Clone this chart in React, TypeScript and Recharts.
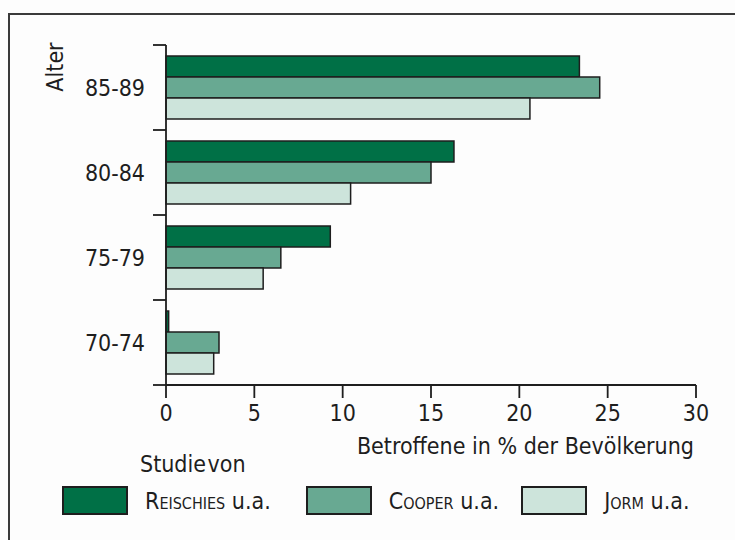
import React from 'react';
import { BarChart, Bar, XAxis, YAxis, Legend } from 'recharts';

const categories = ['85-89', '80-84', '75-79', '70-74'];
const reischies = [23.4, 16.3, 9.3, 0.15];
const cooper = [24.55, 15.0, 6.5, 3.0];
const jorm = [20.6, 10.45, 5.5, 2.7];
const xTicks = [0, 5, 10, 15, 20, 25, 30];
const seriesKeys = ['reischies', 'cooper', 'jorm'];
const seriesNames = ['Reischies', 'Cooper', 'Jorm'];
const seriesSuffix = ' u.a.';
const seriesColors = ['#007046', '#68A992', '#CDE4DB'];
const xLabel = 'Betroffene in % der Bevölkerung';
const yLabel = 'Alter';
const legendTitle = 'Studie von';

const data = categories.map((c, i) => ({
  cat: c,
  reischies: reischies[i],
  cooper: cooper[i],
  jorm: jorm[i],
}));

const FONT = "'DejaVu Sans Condensed', 'Liberation Sans Narrow', 'Open Sans', sans-serif";
const FS = 23;
const INK = '#1e1e1e';
const TICK_SIZE = 13;
const TICK_MARGIN = 8;

const YTick = (props: any) => {
  const { x, y, payload, index, visibleTicksCount } = props;
  const half = payload && typeof payload.offset === 'number' && payload.offset > 0 ? payload.offset : 42.5;
  const x1 = x + TICK_MARGIN;
  const x2 = x + TICK_MARGIN + TICK_SIZE;
  return (
    <g>
      <line x1={x1} x2={x2} y1={y - half} y2={y - half} stroke={INK} strokeWidth={1.8} />
      {index === visibleTicksCount - 1 && (
        <line x1={x1} x2={x2} y1={y + half} y2={y + half} stroke={INK} strokeWidth={1.8} />
      )}
      <text x={x} y={y} textAnchor="end" dominantBaseline="central" fontFamily={FONT} fontSize={FS} fill={INK}>
        {payload.value}
      </text>
    </g>
  );
};

const LegendContent = (props: any) => {
  const payload = [...(props.payload || [])].sort(
    (a: any, b: any) => seriesNames.indexOf(a.value) - seriesNames.indexOf(b.value)
  );
  const gaps = [35, 22, 0];
  return (
    <div style={{ fontFamily: FONT, color: INK, textAlign: 'left' }}>
      <div style={{ marginLeft: 140, fontSize: FS, lineHeight: '26px', wordSpacing: -5 }}>{legendTitle}</div>
      <div style={{ display: 'flex', alignItems: 'center', marginTop: 9, marginLeft: 62 }}>
        {payload.map((p: any, i: number) => (
          <div key={i} style={{ display: 'flex', alignItems: 'center', marginRight: gaps[i] ?? 20 }}>
            <div
              style={{
                width: 66,
                height: 29,
                boxSizing: 'border-box',
                border: `2px solid ${INK}`,
                background: p.color,
              }}
            />
            <span style={{ marginLeft: 17, fontSize: FS, whiteSpace: 'pre' }}>
              <span style={{ fontVariant: 'small-caps' }}>{p.value}</span>
              {seriesSuffix}
            </span>
          </div>
        ))}
      </div>
    </div>
  );
};

export default function App() {
  return (
    <div
      style={{
        position: 'absolute',
        left: 0,
        top: 0,
        width: 735,
        height: 540,
        overflow: 'hidden',
        background: '#fdfdfd',
      }}
    >
      <div
        style={{
          position: 'absolute',
          left: 8,
          top: 13,
          width: 760,
          height: 560,
          borderTop: '2px solid #3a3a3a',
          borderLeft: '2px solid #3a3a3a',
        }}
      />
      <BarChart
        width={735}
        height={540}
        data={data}
        layout="vertical"
        margin={{ top: 45, right: 39, bottom: 125, left: 66 }}
        barSize={21}
        barGap={0}
        style={{ position: 'absolute', left: 0, top: 0 }}
      >
        <XAxis
          type="number"
          domain={[0, 30]}
          ticks={xTicks}
          interval={0}
          height={30}
          tickSize={TICK_SIZE}
          tickMargin={7}
          axisLine={{ stroke: INK, strokeWidth: 1.8 }}
          tickLine={{ stroke: INK, strokeWidth: 1.8 }}
          tick={{ fill: INK, fontSize: FS, fontFamily: FONT }}
          label={{
            content: (p: any) => {
              const vb = p.viewBox;
              return (
                <text
                  x={vb.x + vb.width - 2}
                  y={vb.y + 61}
                  textAnchor="end"
                  dominantBaseline="central"
                  fontFamily={FONT}
                  fontSize={FS}
                  fill={INK}
                >
                  {xLabel}
                </text>
              );
            },
          }}
        />
        <YAxis
          type="category"
          dataKey="cat"
          width={100}
          tickSize={TICK_SIZE}
          tickMargin={TICK_MARGIN}
          tickLine={false}
          axisLine={{ stroke: INK, strokeWidth: 1.8 }}
          tick={<YTick />}
          interval={0}
          label={{
            content: (p: any) => {
              const vb = p.viewBox;
              const cx = vb.x - 11;
              const cy = vb.y + 22;
              return (
                <text
                  x={cx}
                  y={cy}
                  transform={`rotate(-90 ${cx} ${cy})`}
                  textAnchor="middle"
                  dominantBaseline="central"
                  fontFamily={FONT}
                  fontSize={FS}
                  fill={INK}
                >
                  {yLabel}
                </text>
              );
            },
          }}
        />
        <Legend
          layout="vertical"
          align="center"
          verticalAlign="middle"
          wrapperStyle={{ left: 0, top: 451, width: 735 }}
          content={<LegendContent />}
        />
        {seriesKeys.map((k, i) => (
          <Bar
            key={k}
            dataKey={k}
            name={seriesNames[i]}
            fill={seriesColors[i]}
            stroke={INK}
            strokeWidth={1.5}
            isAnimationActive={false}
          />
        ))}
      </BarChart>
    </div>
  );
}
